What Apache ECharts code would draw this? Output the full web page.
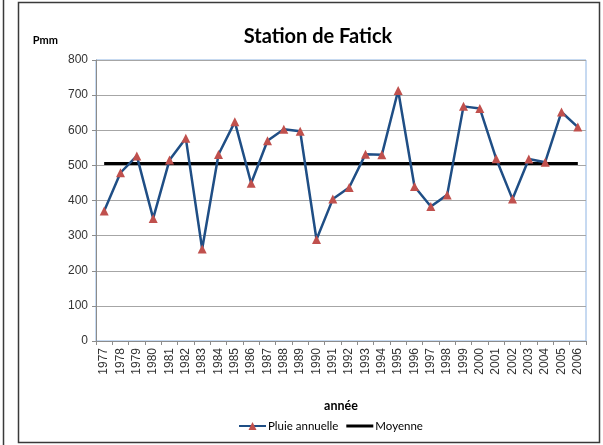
<!DOCTYPE html>
<html>
<head>
<meta charset="utf-8">
<script src="https://cdn.jsdelivr.net/npm/echarts@6/dist/echarts.min.js"></script>
<style>
  html, body { margin: 0; padding: 0; background: #fff; }
  #chartmain { width: 603px; height: 445px; }
</style>
</head>
<body>
<div id="chartmain"></div>
<script>
// années
var annees = ['1977','1978','1979','1980','1981','1982','1983','1984','1985','1986',
              '1987','1988','1989','1990','1991','1992','1993','1994','1995','1996',
              '1997','1998','1999','2000','2001','2002','2003','2004','2005','2006'];
// pluie annuelle (mm)
var pluie = [370, 479, 527, 349, 515, 577, 262, 531, 624, 449,
             570, 603, 597, 289, 404, 437, 532, 530, 713, 440,
             383, 416, 668, 662, 519, 404, 518, 509, 652, 609];
// moyenne
var moyenne = [505, 505, 505, 505, 505, 505, 505, 505, 505, 505,
               505, 505, 505, 505, 505, 505, 505, 505, 505, 505,
               505, 505, 505, 505, 505, 505, 505, 505, 505, 505];

var myChart = echarts.init(document.getElementById('chartmain'));

var option = {
    animation: false,
    textStyle: { fontFamily: 'Liberation Sans' },
    title: {
        text: 'Station de Fatick',
        left: 313, top: 22, textAlign: 'center',
        textStyle: { fontFamily: 'Lato', fontWeight: 'bold', fontSize: 20, color: '#000' }
    },
    graphic: [
        { type: 'rect', shape: { x: 18.5, y: 2.5, width: 581, height: 440 },
          style: { fill: 'none', stroke: '#3a3a3a', lineWidth: 1.5 } },
        { type: 'line', shape: { x1: 3.5, y1: 0, x2: 3.5, y2: 445 },
          style: { stroke: '#3a3a3a', lineWidth: 1.5 } }
    ],
    legend: {
        bottom: 8, left: 233,
        itemWidth: 27, itemHeight: 10, itemGap: 8,
        textStyle: { fontFamily: 'Lato', fontSize: 11.5, color: '#000', padding: [0, 0, 0, -3] },
        data: [
            { name: 'Pluie annuelle' },
            { name: 'Moyenne', icon: 'path://M0,0 L27,0 L27,3 L0,3 Z' }
        ]
    },
    grid: {
        left: 96, right: 17, top: 60, bottom: 104,
        show: true, borderColor: '#8eb4e3', borderWidth: 1
    },
    xAxis: {
        type: 'category',
        data: annees,
        boundaryGap: true,
        name: 'année',
        nameLocation: 'middle',
        nameGap: 58,
        nameTextStyle: { fontFamily: 'Lato', fontWeight: 'bold', fontSize: 12.5, color: '#000' },
        axisLine: { lineStyle: { color: '#8c8c8c' } },
        axisTick: { show: true, length: 4, lineStyle: { color: '#8c8c8c' } },
        axisLabel: { rotate: 90, fontSize: 12, color: '#333', margin: 7, interval: 0 }
    },
    yAxis: {
        type: 'value',
        min: 0, max: 800, interval: 100,
        name: 'Pmm',
        nameLocation: 'end',
        nameGap: 14,
        nameTextStyle: { fontFamily: 'Lato', fontWeight: 'bold', fontSize: 11, color: '#000', align: 'right', padding: [0, 38, 0, 0] },
        axisLine: { show: true, lineStyle: { color: '#8c8c8c' } },
        axisTick: { show: true, length: 4, lineStyle: { color: '#8c8c8c' } },
        axisLabel: { fontSize: 12, color: '#333', margin: 8 },
        splitLine: { lineStyle: { color: '#a6a6a6', width: 1 } }
    },
    series: [
        {
            name: 'Pluie annuelle',
            type: 'line',
            data: pluie,
            symbol: 'triangle',
            symbolSize: 9,
            lineStyle: { color: '#1f4e85', width: 2.5 },
            itemStyle: { color: '#c0504d', borderWidth: 0 },
            z: 3
        },
        {
            name: 'Moyenne',
            type: 'line',
            data: moyenne,
            symbol: 'none',
            lineStyle: { color: '#000', width: 3 },
            itemStyle: { color: '#000' },
            z: 2
        }
    ]
};
myChart.setOption(option);
</script>
</body>
</html>
